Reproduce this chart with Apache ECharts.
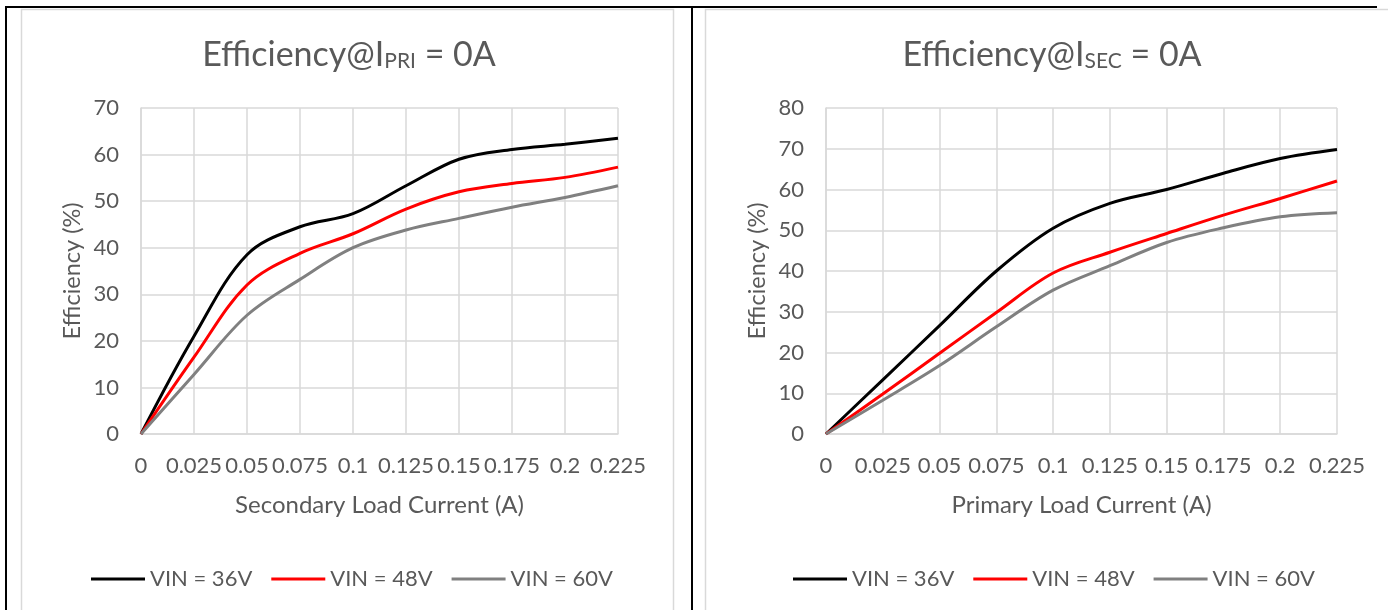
<!DOCTYPE html>
<html>
<head>
<meta charset="utf-8">
<title>Efficiency</title>
<script src="https://cdn.jsdelivr.net/npm/echarts@6/dist/echarts.min.js"></script>
<style>
  html, body { margin: 0; padding: 0; background: #fff; }
  #chart { width: 1388px; height: 610px; }
</style>
</head>
<body>
<div id="chart"></div>
<script>
// Load current (A) at each sample
const loadCurrent = [0, 0.025, 0.05, 0.075, 0.1, 0.125, 0.15, 0.175, 0.2, 0.225];
const xTickLabels = ['0', '0.025', '0.05', '0.075', '0.1', '0.125', '0.15', '0.175', '0.2', '0.225'];
const seriesNames = ['VIN = 36V', 'VIN = 48V', 'VIN = 60V'];

// Efficiency (%) with primary output unloaded, vs. secondary load current
const priVin36 = [0, 21, 38.5, 44.5, 47.3, 53.3, 59, 61.1, 62.2, 63.5];
const priVin48 = [0, 16.5, 32, 38.8, 43, 48.3, 52, 53.8, 55.1, 57.3];
const priVin60 = [0, 12.8, 25.5, 33.2, 40, 43.8, 46.3, 48.7, 50.8, 53.3];

// Efficiency (%) with secondary output unloaded, vs. primary load current
const secVin36 = [0, 13.3, 26.6, 40, 50.5, 56.6, 60, 64, 67.6, 69.8];
const secVin48 = [0, 9.8, 19.8, 29.8, 39.5, 44.6, 49.2, 53.7, 57.8, 62.1];
const secVin60 = [0, 8.3, 16.8, 26.3, 35.3, 41.3, 47, 50.6, 53.3, 54.3];

const lineColors = ['#000000', '#ff0000', '#808080'];
const textColor = '#595959';
const gridColor = '#d9d9d9';
const fontFamily = 'Lato, "Open Sans", sans-serif';

function pairs(ys) {
  return loadCurrent.map((x, i) => [x, ys[i]]);
}

function makeXAxis(gridIndex, name) {
  return {
    type: 'value', gridIndex, min: 0, max: 0.225, interval: 0.025,
    name, nameLocation: 'middle', nameGap: 59,
    nameTextStyle: { color: textColor, fontSize: 24, fontFamily },
    axisLine: { show: true, lineStyle: { color: gridColor, width: 1.5 } },
    axisTick: { show: false },
    splitLine: { show: true, lineStyle: { color: gridColor, width: 1.5 } },
    axisLabel: {
      color: textColor, fontSize: 22, fontFamily, margin: 21,
      formatter: v => xTickLabels[Math.round(v / 0.025)]
    }
  };
}

function makeYAxis(gridIndex, max) {
  return {
    type: 'value', gridIndex, min: 0, max, interval: 10,
    name: 'Efficiency (%)', nameLocation: 'middle', nameGap: 57, nameRotate: 90,
    nameTextStyle: { color: textColor, fontSize: 23.5, fontFamily },
    axisLine: { show: true, lineStyle: { color: gridColor, width: 1.5 } },
    axisTick: { show: false },
    splitLine: { show: true, lineStyle: { color: gridColor, width: 1.5 } },
    axisLabel: { color: textColor, fontSize: 22, fontFamily, margin: 22 }
  };
}

function makeSeries(idx, data, i) {
  return {
    name: seriesNames[i], type: 'line', xAxisIndex: idx, yAxisIndex: idx,
    data: pairs(data), smooth: 0.35, showSymbol: false, symbol: 'none',
    lineStyle: { color: lineColors[i], width: 3 },
    itemStyle: { color: lineColors[i] }
  };
}

function makeTitle(sub, centerX) {
  return {
    text: '{a|Efficiency@I}{s|' + sub + '}{a| = 0A}',
    left: centerX, top: 27, textAlign: 'center',
    textStyle: {
      fontWeight: 'normal',
      rich: {
        a: { fontSize: 34, fontWeight: 'normal', color: textColor, fontFamily, lineHeight: 40, verticalAlign: 'bottom' },
        s: { fontSize: 21, fontWeight: 'normal', color: textColor, fontFamily, lineHeight: 12, verticalAlign: 'bottom' }
      }
    }
  };
}

function makeLegend(left) {
  return {
    data: seriesNames, left, top: 563, icon: 'rect',
    itemWidth: 54, itemHeight: 3, itemGap: 19,
    textStyle: { color: textColor, fontSize: 22, fontFamily },
    selectedMode: false
  };
}

const chart = echarts.init(document.getElementById('chart'), null, { renderer: 'canvas' });

chart.setOption({
  animation: false,
  backgroundColor: '#ffffff',
  title: [makeTitle('PRI', 344), makeTitle('SEC', 1047)],
  legend: [makeLegend(86), makeLegend(788)],
  grid: [
    { left: 141, top: 108, width: 477, height: 326 },
    { left: 826, top: 108, width: 511, height: 326 }
  ],
  xAxis: [makeXAxis(0, 'Secondary Load Current (A)'), makeXAxis(1, 'Primary Load Current (A)')],
  yAxis: [makeYAxis(0, 70), makeYAxis(1, 80)],
  series: [
    makeSeries(0, priVin36, 0), makeSeries(0, priVin48, 1), makeSeries(0, priVin60, 2),
    makeSeries(1, secVin36, 0), makeSeries(1, secVin48, 1), makeSeries(1, secVin60, 2)
  ],
  graphic: [
    // chart panel frames
    { type: 'rect', shape: { x: 21.5, y: 9.5, width: 652, height: 640 },
      style: { fill: 'none', stroke: gridColor, lineWidth: 1.5 }, z: -1 },
    { type: 'rect', shape: { x: 705.5, y: 9.5, width: 700, height: 640 },
      style: { fill: 'none', stroke: gridColor, lineWidth: 1.5 }, z: -1 },
    // table borders
    { type: 'line', shape: { x1: 5, y1: 7, x2: 1377, y2: 7 },
      style: { stroke: '#000', lineWidth: 2 } },
    { type: 'line', shape: { x1: 6, y1: 6, x2: 6, y2: 610 },
      style: { stroke: '#000', lineWidth: 2 } },
    { type: 'line', shape: { x1: 692, y1: 6, x2: 692, y2: 610 },
      style: { stroke: '#000', lineWidth: 2 } }
  ]
});
</script>
</body>
</html>
